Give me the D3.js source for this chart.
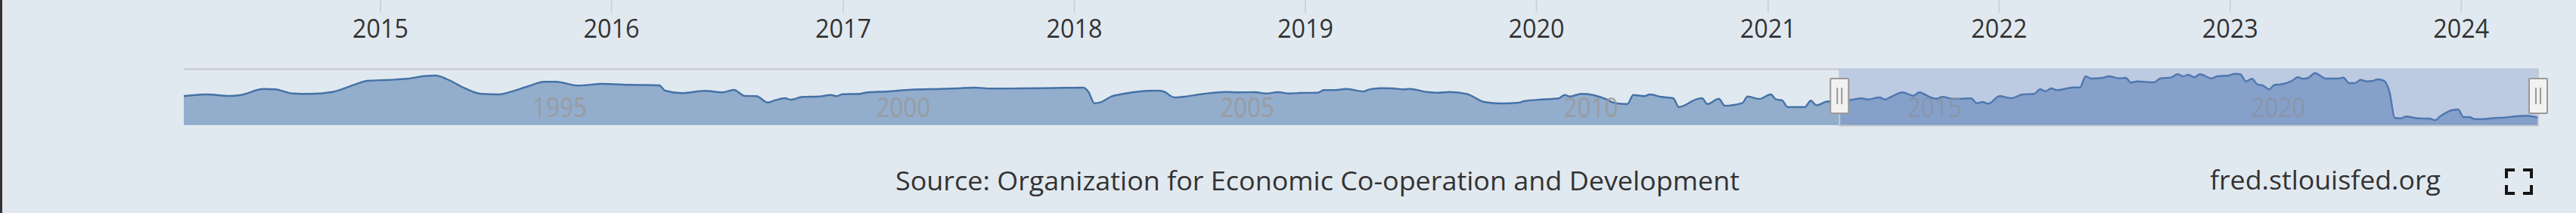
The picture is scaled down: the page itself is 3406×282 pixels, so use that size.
<!DOCTYPE html>
<html>
<head>
<meta charset="utf-8">
<script src="https://cdnjs.cloudflare.com/ajax/libs/d3/7.8.5/d3.min.js"></script>
<style>
  body { margin: 0; background: #e1e9f0; }
  svg { display: block; }
  text { font-family: "Open Sans", sans-serif; }
</style>
</head>
<body>
<div id="chart"></div>
<script>
var width = 3406;
var height = 282;

// navigator series, readings taken off the strip (month, value)
var navDates = [
  "1990-01","1990-05","1990-09","1990-11","1991-03","1991-05","1991-08","1991-11","1992-03","1992-07","1992-09",
  "1993-01","1993-04","1993-07","1993-09","1993-11","1994-02","1994-05","1994-08","1994-10","1995-01","1995-04",
  "1995-06","1995-10","1996-02","1996-07","1996-12","1997-01","1997-04","1997-08","1997-11","1998-01","1998-03",
  "1998-05","1998-07","1998-08","1998-10","1998-11","1999-01","1999-04","1999-06","1999-07","1999-08","1999-11",
  "1999-12","2000-04","2000-08","2001-01","2001-04","2001-07","2001-10","2002-03","2002-07","2002-11","2003-02",
  "2003-03","2003-04","2003-05","2003-07","2003-09","2003-12","2004-03","2004-04","2004-06","2004-08","2004-11",
  "2005-03","2005-05","2005-08","2005-10","2005-12","2006-02","2006-04","2006-07","2006-08","2006-10","2006-12",
  "2007-03","2007-04","2007-06","2007-08","2007-10","2007-11","2008-02","2008-04","2008-06","2008-09","2008-10",
  "2008-12","2009-03","2009-06","2009-07","2009-10","2010-01","2010-02","2010-03","2010-05","2010-07","2010-09",
  "2010-11","2011-01","2011-02","2011-04","2011-05","2011-07","2011-09","2011-10","2012-01","2012-02","2012-03",
  "2012-05","2012-06","2012-09","2012-10","2012-12","2013-02","2013-03","2013-04","2013-05","2013-08","2013-09",
  "2013-10","2013-12","2014-01","2014-04","2014-06","2014-07","2014-09","2014-10","2014-11","2015-01","2015-03",
  "2015-04","2015-06","2015-07","2015-08","2015-10","2016-01","2016-02","2016-03","2016-04","2016-06","2016-08",
  "2016-10","2016-12","2017-01","2017-02","2017-03","2017-04","2017-07","2017-08","2017-09","2017-10","2017-12",
  "2018-01","2018-03","2018-04","2018-05","2018-06","2018-09","2018-10","2018-12","2019-01","2019-02","2019-03",
  "2019-04","2019-05","2019-07","2019-08","2019-10","2019-11","2019-12","2020-01","2020-02","2020-03","2020-04",
  "2020-05","2020-06","2020-07","2020-09","2020-10","2020-11","2020-12","2021-01","2021-03","2021-05","2021-06",
  "2021-07","2021-08","2021-09","2021-10","2021-11","2021-12","2022-01","2022-02","2022-03","2022-04","2022-05",
  "2022-07","2022-09","2022-10","2022-11","2023-01","2023-02","2023-03","2023-04","2023-05","2023-06","2023-09",
  "2023-10","2023-12","2024-02","2024-04"
];
var navValues = [
  37.7,40,38,39.3,47.3,46.7,41.3,40.7,43.3,53.3,58,
  59.3,60.7,64.3,65,60,48.3,40.7,40,43.3,50.5,56.7,
  56.7,51.7,54,52.7,52,45,41.7,44.7,42.7,46,38,
  37.7,29.3,31.7,35,33,36.7,37.3,39.3,37.7,40.3,40.7,
  42.3,44,46.3,47.3,48,49,47.7,48,48.3,48.7,49,
  43.3,28.3,29.3,37.3,40.7,44,45,44,36,37.3,40.7,
  43.3,42.7,43,41.3,43,41.3,42,42.3,45.7,45.7,47.3,
  44,46.7,48.3,48,46.7,47.3,43.3,42.3,43.3,40.7,37.3,
  30,28,29,31,33.3,34.7,39.3,37.3,40.7,39.3,34.7,
  28.3,27.3,39.3,37.7,40,36.7,35,23.3,33.3,35,27.3,
  34.3,25,28.3,37.3,34,40,33.3,32.3,23.3,23.3,31.7,
  25.7,30.7,29.3,32.7,34.7,33.3,36,33.3,36.7,42.7,38.3,
  42.7,36,34.3,36.7,34,34.7,28.3,30,27.7,37.7,35,
  40,40.7,46.7,44.3,48,45.7,49.3,49.3,64,61,62,
  64,61.3,62,55.7,57.3,56,61,62.7,66.7,64,66,
  62.7,66.7,61.3,64,65,67.3,66.7,57.3,60.7,53.3,51.7,
  46.7,52.7,53.3,58,62.7,60.7,62.7,68.3,61,61,62.3,
  55,55,59.3,57.3,57.7,60,58.3,43.3,9,8.3,10.7,
  8.3,8,6,11.7,19.3,20,10,10,7.3,7.3,9,
  9.3,11,11.7,9
];

var mainTickYears = [2015, 2016, 2017, 2018, 2019, 2020, 2021, 2022, 2023, 2024];
var navTickYears = [1995, 2000, 2005, 2010, 2015, 2020];
var selectedRange = ["2014-02", "2024-04"];
var sourceText = "Source: Organization for Economic Co-operation and Development";
var siteText = "fred.stlouisfed.org";

var parseMonth = d3.utcParse("%Y-%m");
var yearDate = function(y) { return new Date(Date.UTC(y, 0, 1)); };

var series = navDates.map(function(d, i) {
  return { date: parseMonth(d), value: navValues[i] };
});

var svg = d3.select("#chart")
  .append("svg")
  .attr("width", width)
  .attr("height", height);

svg.append("rect")
  .attr("width", width)
  .attr("height", height)
  .attr("fill", "#e1e9f0");

// dark edge on the left
svg.append("rect")
  .attr("width", 3)
  .attr("height", height)
  .attr("fill", "#333");

// main chart x axis (only its bottom strip shows)
var mainX = d3.scaleUtc()
  .domain([parseMonth(selectedRange[0]), parseMonth(selectedRange[1])])
  .range([223, 3330]);

var mainAxis = d3.axisBottom(mainX)
  .tickValues(mainTickYears.map(yearDate))
  .tickFormat(d3.utcFormat("%Y"))
  .tickSize(17)
  .tickPadding(8);

var gMain = svg.append("g").call(mainAxis);
gMain.select(".domain").remove();
gMain.selectAll(".tick line")
  .attr("stroke", "#c9d3e3")
  .attr("stroke-width", 2);
gMain.selectAll(".tick text")
  .attr("fill", "#333")
  .style("font-size", "35px")
  .attr("textLength", 74)
  .attr("lengthAdjust", "spacingAndGlyphs");

// navigator
var navTop = 91.5, navBottom = 166.5;

var navX = d3.scaleUtc()
  .domain(d3.extent(series, function(d) { return d.date; }))
  .range([243, 3356]);
var navY = d3.scaleLinear().domain([0, 74]).range([165, 91]);

var area = d3.area()
  .x(function(d) { return navX(d.date); })
  .y0(navY(0))
  .y1(function(d) { return navY(d.value); })
  .curve(d3.curveMonotoneX);

var line = d3.line()
  .x(function(d) { return navX(d.date); })
  .y(function(d) { return navY(d.value); })
  .curve(d3.curveMonotoneX);

svg.append("path")
  .datum(series)
  .attr("d", area)
  .attr("fill", "#4572a7")
  .attr("fill-opacity", 0.5);

svg.append("line")
  .attr("x1", navX.range()[0]).attr("x2", navX.range()[1])
  .attr("y1", navY(0)).attr("y2", navY(0))
  .attr("stroke", "#4572a7")
  .attr("stroke-opacity", 0.3)
  .attr("stroke-width", 1.5);

svg.append("path")
  .datum(series)
  .attr("d", line)
  .attr("fill", "none")
  .attr("stroke", "#4572a7")
  .attr("stroke-width", 2.4)
  .attr("stroke-linejoin", "round");

var navAxis = d3.axisBottom(navX)
  .tickValues(navTickYears.map(yearDate))
  .tickFormat(d3.utcFormat("%Y"))
  .tickSize(0);

var gNav = svg.append("g").call(navAxis);
gNav.select(".domain").remove();
gNav.selectAll(".tick text")
  .attr("text-anchor", "start")
  .attr("x", 6)
  .attr("y", 155)
  .attr("dy", null)
  .attr("fill", "#999")
  .attr("fill-opacity", 0.85)
  .style("font-size", "36px")
  .attr("textLength", 72)
  .attr("lengthAdjust", "spacingAndGlyphs");

// selected range mask
var selX0 = navX(parseMonth(selectedRange[0]));
var selX1 = navX(parseMonth(selectedRange[1]));

svg.append("rect")
  .attr("x", selX0)
  .attr("y", navTop - 1)
  .attr("width", selX1 - selX0)
  .attr("height", navBottom - navTop + 1)
  .attr("fill", "rgb(102,133,194)")
  .attr("fill-opacity", 0.3);

// outline goes along the top, dips under the selection
svg.append("path")
  .attr("d", "M" + navX.range()[0] + "," + navTop +
             "H" + selX0 + "V" + navBottom +
             "H" + selX1 + "V" + navTop +
             "H" + navX.range()[1])
  .attr("fill", "none")
  .attr("stroke", "#c6c8cc")
  .attr("stroke-width", 2);

// handles
var handles = svg.selectAll(".handle")
  .data([selX0, selX1])
  .enter()
  .append("g")
  .attr("class", "handle")
  .attr("transform", function(d) { return "translate(" + d + ",0)"; });

handles.append("rect")
  .attr("x", -12)
  .attr("y", 104)
  .attr("width", 24)
  .attr("height", 46)
  .attr("rx", 1)
  .attr("fill", "#f2f2f2")
  .attr("stroke", "#999")
  .attr("stroke-width", 2);

handles.selectAll(".grip")
  .data([-3, 3])
  .enter()
  .append("line")
  .attr("x1", function(d) { return d; })
  .attr("x2", function(d) { return d; })
  .attr("y1", 116)
  .attr("y2", 138)
  .attr("stroke", "#999")
  .attr("stroke-width", 2);

// footer
svg.append("text")
  .attr("x", 1184)
  .attr("y", 252)
  .attr("fill", "#333")
  .style("font-size", "35px")
  .attr("textLength", 1116)
  .attr("lengthAdjust", "spacingAndGlyphs")
  .text(sourceText);

svg.append("text")
  .attr("x", 2922)
  .attr("y", 251)
  .attr("fill", "#333")
  .style("font-size", "35px")
  .attr("textLength", 305)
  .attr("lengthAdjust", "spacingAndGlyphs")
  .text(siteText);

// full screen icon
var ix0 = 3314, iy0 = 225, ix1 = 3347, iy1 = 256, arm = 11;
var corners = [
  [ix0, iy0 + arm, ix0, iy0, ix0 + arm, iy0],
  [ix1 - arm, iy0, ix1, iy0, ix1, iy0 + arm],
  [ix0, iy1 - arm, ix0, iy1, ix0 + arm, iy1],
  [ix1 - arm, iy1, ix1, iy1, ix1, iy1 - arm]
];
svg.selectAll(".corner")
  .data(corners)
  .enter()
  .append("path")
  .attr("class", "corner")
  .attr("d", function(c) { return "M" + c[0] + "," + c[1] + "L" + c[2] + "," + c[3] + "L" + c[4] + "," + c[5]; })
  .attr("fill", "none")
  .attr("stroke", "#151515")
  .attr("stroke-width", 4);
</script>
</body>
</html>
